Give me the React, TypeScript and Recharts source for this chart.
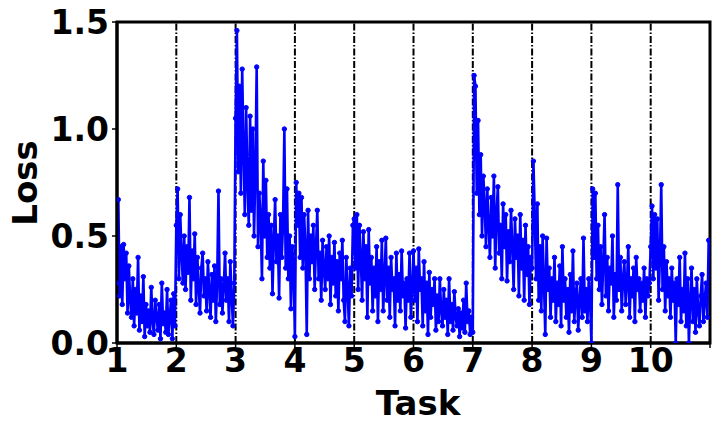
import React from 'react';
import { LineChart, Line, XAxis, YAxis, ReferenceLine, ReferenceArea } from 'recharts';

const task1 = [0.28, 0.67, 0.22, 0.45, 0.18, 0.46, 0.3, 0.42, 0.14, 0.36, 0.2, 0.12, 0.3, 0.08, 0.25, 0.14, 0.40, 0.06, 0.22, 0.1, 0.31, 0.03, 0.18, 0.08, 0.15, 0.05, 0.26, 0.1, 0.04, 0.2, 0.12, 0.06, 0.18, 0.02, 0.28, 0.09, 0.14, 0.05, 0.25, 0.04, 0.12, 0.2, 0.02, 0.23, 0.08];
const task2 = [0.55, 0.72, 0.3, 0.6, 0.42, 0.28, 0.5, 0.25, 0.45, 0.33, 0.68, 0.2, 0.43, 0.3, 0.51, 0.18, 0.4, 0.26, 0.14, 0.35, 0.42, 0.22, 0.3, 0.15, 0.38, 0.24, 0.12, 0.32, 0.2, 0.36, 0.1, 0.28, 0.71, 0.18, 0.3, 0.14, 0.26, 0.42, 0.2, 0.3, 0.1, 0.38, 0.22, 0.08, 0.28];
const task3 = [1.05, 1.46, 0.8, 1.2, 0.7, 1.28, 0.9, 0.6, 1.1, 0.75, 0.55, 1.06, 0.62, 1.0, 0.5, 0.8, 1.29, 0.45, 0.7, 0.58, 0.3, 0.85, 0.5, 0.76, 0.4, 0.6, 0.35, 0.55, 0.23, 0.48, 0.67, 0.38, 0.5, 0.21, 0.6, 0.4, 0.55, 1.0, 0.35, 0.72, 0.3, 0.5, 0.16, 0.45, 0.35];
const task4 = [0.03, 0.75, 0.55, 0.7, 0.4, 0.68, 0.35, 0.6, 0.45, 0.04, 0.62, 0.3, 0.5, 0.38, 0.55, 0.25, 0.45, 0.62, 0.3, 0.42, 0.2, 0.48, 0.35, 0.25, 0.45, 0.3, 0.5, 0.18, 0.4, 0.28, 0.47, 0.22, 0.38, 0.15, 0.42, 0.3, 0.48, 0.2, 0.1, 0.4, 0.25, 0.08, 0.35, 0.22, 0.55];
const task5 = [0.58, 0.35, 0.6, 0.25, 0.55, 0.4, 0.2, 0.52, 0.3, 0.45, 0.12, 0.53, 0.28, 0.4, 0.15, 0.35, 0.22, 0.45, 0.1, 0.38, 0.25, 0.48, 0.15, 0.3, 0.49, 0.2, 0.35, 0.12, 0.4, 0.25, 0.3, 0.08, 0.42, 0.2, 0.32, 0.15, 0.43, 0.22, 0.28, 0.07, 0.3, 0.2, 0.42, 0.12, 0.25];
const task6 = [0.43, 0.2, 0.35, 0.1, 0.44, 0.25, 0.3, 0.08, 0.38, 0.15, 0.28, 0.04, 0.33, 0.12, 0.25, 0.18, 0.3, 0.06, 0.22, 0.1, 0.3, 0.15, 0.08, 0.25, 0.12, 0.2, 0.04, 0.3, 0.1, 0.18, 0.06, 0.24, 0.12, 0.08, 0.16, 0.03, 0.14, 0.07, 0.2, 0.05, 0.28, 0.1, 0.15, 0.04, 0.12];
const task7 = [0.05, 1.25, 1.2, 0.7, 1.04, 0.6, 0.88, 0.5, 0.78, 0.65, 0.45, 0.72, 0.55, 0.4, 0.68, 0.5, 0.78, 0.35, 0.6, 0.73, 0.42, 0.55, 0.3, 0.65, 0.45, 0.6, 0.29, 0.52, 0.38, 0.62, 0.45, 0.25, 0.58, 0.4, 0.5, 0.22, 0.6, 0.35, 0.48, 0.2, 0.55, 0.32, 0.45, 0.18, 0.4];
const task8 = [0.35, 0.85, 0.6, 0.3, 0.65, 0.2, 0.45, 0.15, 0.5, 0.28, 0.04, 0.49, 0.25, 0.35, 0.12, 0.3, 0.2, 0.4, 0.1, 0.28, 0.18, 0.36, 0.08, 0.45, 0.2, 0.3, 0.12, 0.25, 0.05, 0.32, 0.15, 0.43, 0.1, 0.22, 0.28, 0.06, 0.2, 0.3, 0.12, 0.49, 0.15, 0.25, 0.1, 0.3, 0.2];
const task9 = [0.0, 0.72, 0.4, 0.7, 0.3, 0.55, 0.25, 0.45, 0.18, 0.38, 0.6, 0.22, 0.4, 0.15, 0.35, 0.28, 0.5, 0.12, 0.32, 0.2, 0.74, 0.25, 0.4, 0.15, 0.3, 0.38, 0.18, 0.28, 0.45, 0.12, 0.3, 0.22, 0.35, 0.1, 0.4, 0.25, 0.3, 0.15, 0.28, 0.2, 0.35, 0.12, 0.3, 0.22, 0.28];
const task10 = [0.45, 0.64, 0.3, 0.6, 0.35, 0.58, 0.2, 0.4, 0.74, 0.25, 0.45, 0.15, 0.38, 0.22, 0.3, 0.12, 0.35, 0.2, 0.28, 0.0, 0.3, 0.18, 0.4, 0.1, 0.25, 0.15, 0.42, 0.08, 0.3, 0.0, 0.2, 0.35, 0.1, 0.25, 0.05, 0.3, 0.15, 0.08, 0.22, 0.32, 0.1, 0.2, 0.28, 0.12, 0.48];

const tasks = [task1, task2, task3, task4, task5, task6, task7, task8, task9, task10];
const xTicks = [1, 2, 3, 4, 5, 6, 7, 8, 9, 10, 11];
const yTicks = [0, 0.5, 1.0, 1.5];
const boundaries = [2, 3, 4, 5, 6, 7, 8, 9, 10];

const data: { x: number; loss: number }[] = [];
tasks.forEach((arr, t) => {
  arr.forEach((v, i) => {
    data.push({ x: t + 1 + i / arr.length, loss: v });
  });
});

const FONT = "'DejaVu Sans', sans-serif";
const tickStyle = { fontFamily: FONT, fontWeight: 700, fontSize: 33, fill: '#000' };

export default function App() {
  return (
    <LineChart width={712} height={424} data={data} margin={{ top: 14, right: 10, left: 0, bottom: 0 }}>
      <XAxis
        type="number"
        dataKey="x"
        domain={[1, 11]}
        ticks={xTicks}
        tickFormatter={(v: number) => (v === 11 ? '' : String(v))}
        interval={0}
        allowDataOverflow
        height={89}
        tickSize={5}
        tickMargin={1}
        tick={tickStyle}
        axisLine={{ stroke: '#000', strokeWidth: 3 }}
        tickLine={{ stroke: '#000', strokeWidth: 1.5 }}
        label={{
          value: 'Task',
          content: () => (
            <text x={410} y={395} textAnchor="middle" dominantBaseline="central" style={{ fontFamily: FONT, fontWeight: 700, fontSize: 34, fill: '#000' }}>
              Task
            </text>
          ),
        }}
      />
      <YAxis
        type="number"
        domain={[0, 1.5]}
        ticks={yTicks}
        tickFormatter={(v: number) => v.toFixed(1)}
        interval={0}
        allowDataOverflow
        width={109}
        tickSize={5}
        tickMargin={3}
        tick={tickStyle}
        axisLine={{ stroke: '#000', strokeWidth: 3 }}
        tickLine={{ stroke: '#000', strokeWidth: 1.5 }}
        label={{
          value: 'Loss',
          content: () => (
            <text x={17} y={175} transform="rotate(-90 17 175)" textAnchor="middle" dominantBaseline="central" style={{ fontFamily: FONT, fontWeight: 700, fontSize: 34, fill: '#000' }}>
              Loss
            </text>
          ),
        }}
      />
      {boundaries.map((b) => (
        <ReferenceLine key={b} x={b} stroke="#000" strokeWidth={2} strokeDasharray="7 2 1.5 2" />
      ))}
      <Line
        type="linear"
        dataKey="loss"
        stroke="#0000ff"
        strokeWidth={2.6}
        dot={{ r: 2.2, fill: '#0000ff', stroke: '#0000ff', strokeWidth: 1 }}
        isAnimationActive={false}
      />
      <ReferenceArea x1={1} x2={11} y1={0} y2={1.5} fill="none" stroke="#000" strokeWidth={3} ifOverflow="visible" />
    </LineChart>
  );
}
